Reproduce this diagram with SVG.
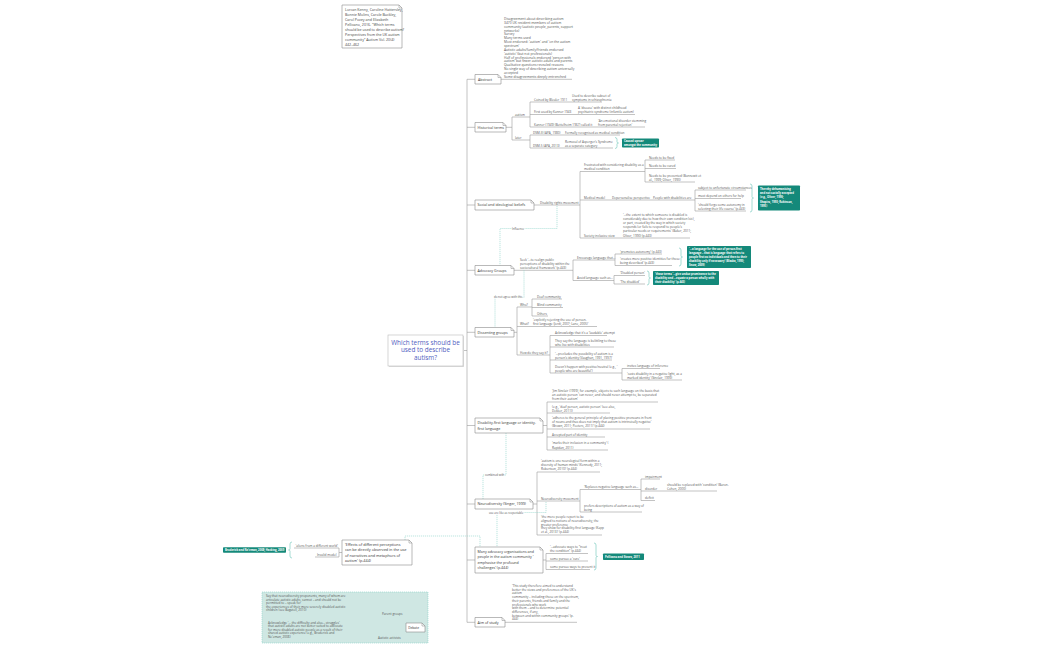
<svg xmlns="http://www.w3.org/2000/svg" width="1050" height="650" viewBox="0 0 1050 650">
<style>
text{font-family:"Open Sans","Liberation Sans",sans-serif}
.s{font-size:3.1px;fill:#555}
.a{font-size:3.3px;fill:#555}
.m{font-size:3.6px;fill:#333}
.c{font-size:3.6px;fill:#444}
.w{font-size:2.7px;fill:#fff;font-weight:bold}
.rl{font-size:2.8px;fill:#555;paint-order:stroke;stroke:#fff;stroke-width:1.2px}
.ln{stroke:#9a9a9a;stroke-width:.6;fill:none}
.nb{fill:#fff;stroke:#8a8a8a;stroke-width:.6}
.fd{fill:none;stroke:#8a8a8a;stroke-width:.5}
.tb{fill:#14897a}
.br{stroke:#8fd3c9;stroke-width:.8;fill:none}
.dl{stroke:#8fd3c9;stroke-width:.6;stroke-dasharray:1.2 .8;fill:none}
</style>
<rect width="1050" height="650" fill="#fff"/>
<g id="connectors">
<path class="ln" d="M463 350.5H467M467 79.3V622.3M467 79.3H475M467 127.3H475M467 205H475M467 270.3H475M467 332.3H475M467 425.5H475M467 504H475M467 560H475M467 622.3H475"/>
<path class="ln" d="M501 79.3H572"/>
<path class="ln" d="M506 127.3H512M512 117V140M512 117H530M530 102V127M530 102H602M530 114.5H635M530 127H645M512 140H530M530 135V148M530 135H620M530 148H613"/>
<path class="ln" d="M534 205H580M580 171.5V238M580 171.5H645M645 160V182M645 160H675M645 168.5H676M645 182H695M580 200H695M695 190V211M695 190H746M695 198.5H741M695 211H746M580 238H690"/>
<path class="ln" d="M514 270.3H573M573 260V280.5M573 260H615M615 254V265.5M615 254H662M615 265.5H672M573 280.5H614M614 275.5V284M614 275.5H645M614 284H645"/>
<path class="ln" d="M514 332.3H517M517 307V355M517 307H532M532 299V316M532 299H562M532 307.5H563M532 316H548M517 326.5H597M517 355H550M550 335.5V373M550 335.5H607M550 347H614M550 360H612M550 373H622M622 368.5V380M622 368.5H660M622 380H682"/>
<path class="ln" d="M543 425.5H547M547 402V450M547 402H658M547 413H610M547 429H650M547 437H605M547 450H608"/>
<path class="ln" d="M533 504H537M537 472V535M537 472H600M537 501H580M580 489.5V512M580 489.5H641M641 479V500.5M641 479H660M641 491H717M641 500.5H655M580 512H642M537 535H602"/>
<path class="ln" d="M543 560H546M546 553.5V569.5M546 553.5H588M546 561H588M546 569.5H590"/>
<path class="ln" d="M505 622.3H577"/>
<path class="ln" d="M342 552.5H339M339 548V557M339 548H294M339 557H315"/>
<path class="ln" d="M406 627.5H403M403 616V640M403 616H266M403 640H266M266 616V640"/>
<path class="br" d="M615 137.5Q617 137.5 617 139.5V141.8Q617 143 618.5 143Q617 143 617 144.2V146.5Q617 148.5 615 148.5"/>
<path class="br" d="M750 184Q752 184 752 186V196.8Q752 198 753.5 198Q752 198 752 199.2V210Q752 212 750 212"/>
<path class="br" d="M679 248Q681 248 681 250V255.8Q681 257 682.5 257Q681 257 681 258.2V264Q681 266 679 266"/>
<path class="br" d="M647 271Q649 271 649 273V276.8Q649 278 650.5 278Q649 278 649 279.2V283Q649 285 647 285"/>
<path class="br" d="M594 543Q596 543 596 545V555.3Q596 556.5 597.5 556.5Q596 556.5 596 557.7V568Q596 570 594 570"/>
<path class="br" d="M292 542Q290 542 290 544V548.8Q290 550 288.5 550Q290 550 290 551.2V556Q290 558 292 558"/>
<path class="dl" d="M557 206V228.5H500V265.5"/>
<path class="dl" d="M524 270.3V297.5H495V327.5"/>
<path class="dl" d="M506 433V475H483V499"/>
<path class="dl" d="M546 502V512.5H497V547"/>
<path class="dl" d="M405 540V536H480V547"/>
<text class="rl" x="512" y="229.5">Influence</text>
<text class="rl" x="494" y="298.4">do not agree with this</text>
<text class="rl" x="485" y="476">combined with</text>
<text class="rl" x="489" y="513.5">use are like as respectable</text>
</g>
<g id="citation">
<path class="nb" d="M342 5H399L402 8V48H342Z"/><path class="fd" d="M399 5V8H402"/>
<text class="c" x="345" y="11">Lorcan Kenny, Caroline Hattersley,</text>
<text class="c" x="345" y="16">Bonnie Molins, Carole Buckley,</text>
<text class="c" x="345" y="21">Carol Povey and Elizabeth</text>
<text class="c" x="345" y="26">Pellicano, 2016. "Which terms</text>
<text class="c" x="345" y="31">should be used to describe autism?</text>
<text class="c" x="345" y="36">Perspectives from the UK autism</text>
<text class="c" x="345" y="41">community" Autism Vol. 20(4)</text>
<text class="c" x="345" y="46">442–462</text>
</g>
<g id="central">
<rect x="389" y="336" width="75" height="31" fill="#ddd"/>
<rect x="388" y="335" width="75" height="31" fill="#fff" stroke="#bbb" stroke-width=".6"/>
<text x="425.5" y="344.8" text-anchor="middle" style="font-size:6.4px;fill:#4f5cc0">Which terms should be</text>
<text x="425.5" y="352.3" text-anchor="middle" style="font-size:6.4px;fill:#4f5cc0">used to describe</text>
<text x="425.5" y="359.8" text-anchor="middle" style="font-size:6.4px;fill:#4f5cc0">autism?</text>
</g>
<g id="abstract">
<path class="nb" d="M475 74.5H498L501 77.5V84H475Z"/><path class="fd" d="M498 74.5V77.5H501"/>
<text class="m" x="478" y="80.6">Abstract</text>
<g class="a">
<text x="504" y="20">Disagreement about describing autism</text>
<text x="504" y="23.85">3470 UK resident members of autism</text>
<text x="504" y="27.7">community (autistic people, parents, support</text>
<text x="504" y="31.55">networks)</text>
<text x="504" y="35.4">Survey</text>
<text x="504" y="39.25">Many terms used</text>
<text x="504" y="43.1">Most endorsed: 'autism' and 'on the autism</text>
<text x="504" y="46.95">spectrum'</text>
<text x="504" y="50.8">Autistic adults/family/friends endorsed</text>
<text x="504" y="54.65">'autistic' (but not professionals)</text>
<text x="504" y="58.5">Half of professionals endorsed 'person with</text>
<text x="504" y="62.35">autism' but fewer autistic adults and parents</text>
<text x="504" y="66.2">Qualitative questions revealed reasons</text>
<text x="504" y="70.05">No single way of describing autism universally</text>
<text x="504" y="73.9">accepted</text>
<text x="504" y="77.75">Some disagreements deeply entrenched</text>
</g>
</g>
<g id="historical">
<path class="nb" d="M475 122.5H503L506 125.5V132H475Z"/><path class="fd" d="M503 122.5V125.5H506"/>
<text class="m" x="477.5" y="128.6">Historical terms</text>
<g class="s">
<text x="515" y="116">autism</text>
<text x="534" y="100.8">Coined by Bleuler 1911</text>
<text x="572" y="96.5">Used to describe subset of</text>
<text x="572" y="100.8">symptoms in schizophrenia</text>
<text x="534" y="113.3">First used by Kanner 1943</text>
<text x="578" y="109">A 'disease' with distinct childhood</text>
<text x="578" y="113.3">psychiatric syndrome (infantile autism)</text>
<text x="534" y="125.8">Kanner (1949) (Bettelheim 1967) called it</text>
<text x="598" y="121.5">'An emotional disorder stemming</text>
<text x="598" y="125.8">from parental rejection'</text>
<text x="515" y="139">later</text>
<text x="533" y="133.8">DSM-III (APA, 1980)</text>
<text x="565" y="133.8">Formally recognised as medical condition</text>
<text x="533" y="146.8">DSM-5 (APA, 2013)</text>
<text x="565" y="142.5">Removal of Asperger's Syndrome</text>
<text x="565" y="146.8">as a separate category</text>
</g>
<rect class="tb" x="622" y="138.5" width="37" height="9" rx=".8"/>
<text class="w" x="624" y="142.3">Caused uproar</text>
<text class="w" x="624" y="146">amongst the community</text>
</g>
<g id="social">
<path class="nb" d="M475 200H531L534 203V210H475Z"/><path class="fd" d="M531 200V203H534"/>
<text class="m" x="477.5" y="206.3">Social and ideological beliefs</text>
<g class="s">
<text x="540" y="203.8">Disability rights movement</text>
<text x="584" y="166">Frustrated with considering disability as a</text>
<text x="584" y="170.3">medical condition</text>
<text x="649" y="158.8">Needs to be fixed</text>
<text x="649" y="167.3">Needs to be cured</text>
<text x="649" y="176.5">Needs to be prevented (Bonnewit et</text>
<text x="649" y="180.8">al., 1999; Oliver, 1990)</text>
<text x="584" y="198.8">Medical model</text>
<text x="612" y="198.8">Depersonalise perspective</text>
<text x="653" y="198.8">People with disabilities are</text>
<text x="698" y="188.8">subject to unfortunate circumstances</text>
<text x="698" y="197.3">must depend on others for help</text>
<text x="698" y="205.5">'should forgo some autonomy in</text>
<text x="698" y="209.8">selecting their life course' (p.443)</text>
<text x="584" y="236.8">Society inclusive view</text>
<text x="623" y="215.5">'...the extent to which someone is disabled is</text>
<text x="623" y="219.7">considerably due to how their own condition (sic),</text>
<text x="623" y="223.9">or part, created by the way in which society</text>
<text x="623" y="228.1">responds (or fails to respond) to people's</text>
<text x="623" y="232.3">particular needs or requirements' (Baker, 2011;</text>
<text x="623" y="236.5">Oliver, 1990) (p.443)</text>
</g>
<rect class="tb" x="758" y="185.5" width="42" height="25" rx=".8"/>
<text class="w" x="760" y="189.8">Thereby dehumanising</text>
<text class="w" x="760" y="194.1">and not socially accepted</text>
<text class="w" x="760" y="198.4">(e.g., Oliver, 1990;</text>
<text class="w" x="760" y="202.7">Shapiro, 1993; Robinson,</text>
<text class="w" x="760" y="207">1995)</text>
</g>
<g id="advocacy">
<path class="nb" d="M475 265.5H511L514 268.5V275H475Z"/><path class="fd" d="M511 265.5V268.5H514"/>
<text class="m" x="477.5" y="271.6">Advocacy Groups</text>
<g class="s">
<text x="520" y="260.5">Seek '...to realign public</text>
<text x="520" y="264.6">perceptions of disability within the</text>
<text x="520" y="268.8">sociocultural framework' (p.443)</text>
<text x="577" y="258.8">Encourage language that...</text>
<text x="620" y="252.8">'promotes autonomy' (p.443)</text>
<text x="620" y="260">'creates more positive identities for those</text>
<text x="620" y="264.3">being described' (p.443)</text>
<text x="577" y="279.3">Avoid language such as...</text>
<text x="620" y="274.3">'Disabled person'</text>
<text x="620" y="282.8">'The disabled'</text>
</g>
<rect class="tb" x="687" y="246" width="64" height="22" rx=".8"/>
<text class="w" x="689" y="250.2">'...a language for the use of person-first</text>
<text class="w" x="689" y="254.2">language – that is language that refers to</text>
<text class="w" x="689" y="258.2">people first as individuals and then to their</text>
<text class="w" x="689" y="262.2">disability only if necessary' (Blaska, 1993;</text>
<text class="w" x="689" y="266.2">Snow, 2009)</text>
<rect class="tb" x="653" y="271" width="66" height="14" rx=".8"/>
<text class="w" x="655" y="275.2">'these terms '...give undue prominence to the</text>
<text class="w" x="655" y="279.2">disability and ...equate a person wholly with</text>
<text class="w" x="655" y="283.2">their disability' (p.443)</text>
</g>
<g id="dissenting">
<path class="nb" d="M475 327.5H511L514 330.5V337H475Z"/><path class="fd" d="M511 327.5V330.5H514"/>
<text class="m" x="477.5" y="333.6">Dissenting groups</text>
<g class="s">
<text x="520" y="305.8">Who?</text>
<text x="537" y="297.8">Deaf community</text>
<text x="537" y="306.3">Blind community</text>
<text x="537" y="314.8">Others</text>
<text x="520" y="325.3">What?</text>
<text x="533" y="321">'explicitly rejecting the use of person-</text>
<text x="533" y="325.3">first language (Jordi, 2007; Lane, 2005)'</text>
<text x="520" y="353.8">How do they say it?</text>
<text x="555" y="334.3">Acknowledge that it's a 'laudable' attempt</text>
<text x="555" y="341.5">They say the language is belittling to those</text>
<text x="555" y="345.8">who live with disabilities</text>
<text x="555" y="354.5">'...precludes the possibility of autism is a</text>
<text x="555" y="358.8">person's identity (Vaughan, 1991, 1997)'</text>
<text x="555" y="367.5">Doesn't happen with positive/neutral (e.g., '</text>
<text x="555" y="371.8">people who are beautiful')</text>
<text x="627" y="367.3">invites language of inference</text>
<text x="627" y="374.5">'casts disability in a negative light, as a</text>
<text x="627" y="378.8">marked identity' (Sinclair, 1999)</text>
</g>
</g>
<g id="disability-first">
<path class="nb" d="M475 418H540L543 421V433H475Z"/><path class="fd" d="M540 418V421H543"/>
<text class="m" x="477.5" y="424">Disability-first language or identity-</text>
<text class="m" x="477.5" y="429.8">first language</text>
<g class="s">
<text x="552" y="392">'Jim Sinclair (1999), for example, objects to such language on the basis that</text>
<text x="552" y="396.2">an autistic person 'can never, and should never attempt to, be separated</text>
<text x="552" y="400.4">from their autism'</text>
<text x="552" y="407.5">(e.g., 'deaf person, autistic person' (see also,</text>
<text x="552" y="411.8">Dekker, 2011))</text>
<text x="552" y="419">'adheres to the general principle of placing positive pronouns in front</text>
<text x="552" y="423.2">of nouns and thus does not imply that autism is intrinsically negative'</text>
<text x="552" y="427.4">(Brown, 2011; Peeters, 2011)' (p.444)</text>
<text x="552" y="435.8">Accepted part of identity</text>
<text x="552" y="444.2">'marks their inclusion in a community' (</text>
<text x="552" y="448.5">Rapidan, 2011)</text>
</g>
</g>
<g id="neurodiversity">
<path class="nb" d="M475 499H530L533 502V509H475Z"/><path class="fd" d="M530 499V502H533"/>
<text class="m" x="477.5" y="505.3">Neurodiversity (Singer, 1999)</text>
<g class="s">
<text x="541" y="462">'autism is one neurological form within a</text>
<text x="541" y="466.2">diversity of human minds' (Kennedy, 2011;</text>
<text x="541" y="470.4">Robertson, 2010)' (p.444)</text>
<text x="541" y="499.8">Neurodiversity movement</text>
<text x="584" y="488.3">'Replaces negative language such as...</text>
<text x="645" y="477.8">impairment</text>
<text x="645" y="489.8">disorder</text>
<text x="667" y="485.5">should be replaced with 'condition' (Baron-</text>
<text x="667" y="489.8">Cohen, 2000)</text>
<text x="645" y="499.3">deficit</text>
<text x="584" y="506.5">prefers descriptions of autism as a way of</text>
<text x="584" y="510.8">being</text>
<text x="541" y="518">'the more people report to be</text>
<text x="541" y="521.8">aligned to notions of neurodiversity, the</text>
<text x="541" y="525.6">greater preference</text>
<text x="541" y="529.4">they show for disability-first language (Kapp</text>
<text x="541" y="533.2">et al., 2013)' (p.444)</text>
</g>
</g>
<g id="many-advocacy">
<path class="nb" d="M475 547H540L543 550V573H475Z"/><path class="fd" d="M540 547V550H543"/>
<text class="m" x="477.5" y="552.6">Many advocacy organisations and</text>
<text class="m" x="477.5" y="558.1">people in the autism community '</text>
<text class="m" x="477.5" y="563.6">emphasise the profound</text>
<text class="m" x="477.5" y="569.1">challenges' (p.444)</text>
<g class="s">
<text x="550" y="548">'...advocate ways to "treat</text>
<text x="550" y="552.3">the condition" (p.444)</text>
<text x="550" y="559.8">some pursue a 'cure'</text>
<text x="550" y="568.3">some pursue ways to prevent it</text>
</g>
<rect class="tb" x="603" y="553.5" width="41" height="6.5" rx=".8"/>
<text class="w" x="605" y="557.8">Pellicano and Stears, 2011</text>
</g>
<g id="aim">
<path class="nb" d="M475 617.5H502L505 620.5V627H475Z"/><path class="fd" d="M502 617.5V620.5H505"/>
<text class="m" x="477.5" y="623.6">Aim of study</text>
<g class="s">
<text x="512" y="587">'This study therefore aimed to understand</text>
<text x="512" y="590.7">better the views and preferences of the UK's</text>
<text x="512" y="594.4">autism</text>
<text x="512" y="598.1">community – including those on the spectrum,</text>
<text x="512" y="601.8">their parents, friends and family and the</text>
<text x="512" y="605.5">professionals who work</text>
<text x="512" y="609.2">with them – and to determine potential</text>
<text x="512" y="612.9">differences, if any,</text>
<text x="512" y="616.6">between and within community groups' (p.</text>
<text x="512" y="620.3">444)</text>
</g>
</g>
<g id="effects">
<path class="nb" d="M342 540H409L412 543V565H342Z"/><path class="fd" d="M409 540V543H412"/>
<text class="m" x="345" y="545.6" style="font-size:3.8px">'Effects of different perceptions</text>
<text class="m" x="345" y="551.1" style="font-size:3.8px">can be directly observed in the use</text>
<text class="m" x="345" y="556.6" style="font-size:3.8px">of narratives and metaphors of</text>
<text class="m" x="345" y="562.1" style="font-size:3.8px">autism' (p.444)</text>
<g class="s">
<text x="295.5" y="546.8">'aliens from a different world'</text>
<text x="317" y="555.8">Invalid model</text>
</g>
<rect class="tb" x="223" y="547.3" width="63" height="5.5" rx=".8"/>
<text class="w" x="225" y="551">Broderick and Ne'eman, 2008; Hacking, 2009</text>
</g>
<g id="debate">
<rect x="262" y="592" width="166" height="51" fill="#cfe7e3" stroke="#8fd3c9" stroke-width=".6" stroke-dasharray="1.2 .8"/>
<path class="nb" d="M406 623H422L425 626V632H406Z"/><path class="fd" d="M422 623V626H425"/>
<text class="m" x="408.2" y="628.9" style="font-size:3.2px">Debate</text>
<g class="s">
<text x="266" y="597">Say that neurodiversity proponents, many of whom are</text>
<text x="266" y="600.6">articulate autistic adults, cannot – and should not be</text>
<text x="266" y="604.2">permitted to – speak for</text>
<text x="266" y="607.8">the experiences of their more severely disabled autistic</text>
<text x="266" y="611.4">children (see Bagatell, 2010)</text>
<text x="382" y="614.8">Parent groups</text>
<text x="268" y="623.6">Acknowledge '... the difficulty and also... struggles'</text>
<text x="268" y="627.2">that autistic adults are not better suited to advocate</text>
<text x="268" y="630.8">for more disabled autistic people as a result of their</text>
<text x="268" y="634.4">shared autistic experience (e.g., Broderick and</text>
<text x="268" y="638">Ne'eman, 2008)</text>
<text x="378" y="638.8">Autistic activists</text>
</g>
</g>
</svg>
